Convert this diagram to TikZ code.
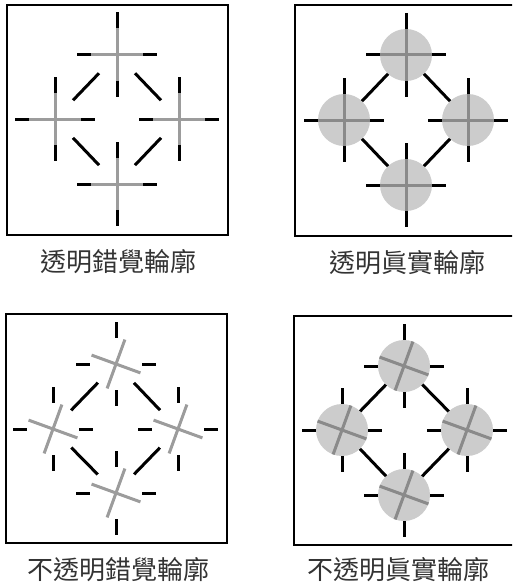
\documentclass[tikz,border=0pt]{standalone}
\usepackage{fontspec}
\newfontfamily\cjk{Noto Sans CJK TC}
\usetikzlibrary{calc}
\definecolor{crossgray}{HTML}{9C9C9C}
\definecolor{innergray}{HTML}{8A8A8A}
\definecolor{discgray}{HTML}{CCCCCC}
\definecolor{labelcol}{HTML}{333333}
\begin{document}
\begin{tikzpicture}[x=1pt,y=-1pt,
  frame/.style={line width=2pt, black},
  blk/.style={line width=3pt, black},
  lightline/.style={line width=3pt, crossgray},
  darkline/.style={line width=3pt, innergray},
  disc/.style={fill=discgray},
  lab/.style={font=\cjk\fontsize{26}{26}\selectfont, text=labelcol, inner sep=0pt},
  stubs/.pic={\draw[blk] (-40,0)--(-26,0) (26,0)--(40,0) (0,-42)--(0,-26) (0,26)--(0,42);},
  straightcross/.pic={\draw[pic actions] (-26,0)--(26,0) (0,-26)--(0,26);},
  tiltcross/.pic={\draw[pic actions] (200:26)--(20:26) (110:26)--(290:26);},
  discpic/.pic={\fill[disc] (0,0) circle (26pt);}
]
\useasboundingbox (0,0) rectangle (512,586);
\clip (0,0) rectangle (512,586);

% frames
\draw[frame] (7,5) rectangle (228,235);
\draw[frame] (295,5) rectangle (516,236);
\draw[frame] (6,314) rectangle (227,543);
\draw[frame] (294,316) rectangle (515,545);

% centres
\coordinate (at) at (117,54.5);  \coordinate (al) at (55,119);
\coordinate (ar) at (179,119);   \coordinate (ab) at (117,184);
\coordinate (bt) at (406,55);    \coordinate (bl) at (344,120);
\coordinate (br) at (468,120);   \coordinate (bb) at (406,185);
\coordinate (ct) at (116,364);   \coordinate (cl) at (53,429);
\coordinate (cr) at (178,429);   \coordinate (cb) at (116,493);
\coordinate (dt) at (404,366);   \coordinate (dl) at (342,430);
\coordinate (dr) at (467,430);   \coordinate (db) at (404,495);

% discs (panels b, d)
\foreach \p in {b,d}{
  \foreach \q in {t,l,r,b}{
    \pic at (\p\q) {discpic};
  }
}

% crosses
\foreach \q in {t,l,r,b}{
  \pic[lightline] at (a\q) {straightcross};
  \pic[darkline] at (b\q) {straightcross};
  \pic[lightline] at (c\q) {tiltcross};
  \pic[darkline] at (d\q) {tiltcross};
}

% black stubs
\foreach \p in {a,b,c,d}{
  \foreach \q in {t,l,r,b}{
    \pic at (\p\q) {stubs};
  }
}

% diagonals
\foreach \p in {a,b,c,d}{
  \draw[blk] ($(\p t)!26pt!(\p l)$) -- ($(\p l)!26pt!(\p t)$);
  \draw[blk] ($(\p t)!26pt!(\p r)$) -- ($(\p r)!26pt!(\p t)$);
  \draw[blk] ($(\p b)!26pt!(\p l)$) -- ($(\p l)!26pt!(\p b)$);
  \draw[blk] ($(\p b)!26pt!(\p r)$) -- ($(\p r)!26pt!(\p b)$);
}

% labels
\node[lab] (la) at (118,262) {透明錯覺輪廓};
\node[lab] (lb) at (407,263) {透明眞實輪廓};
\node[lab] (lc) at (118.5,570) {不透明錯覺輪廓};
\node[lab] (ld) at (398.5,570) {不透明眞實輪廓};
\end{tikzpicture}
\end{document}
